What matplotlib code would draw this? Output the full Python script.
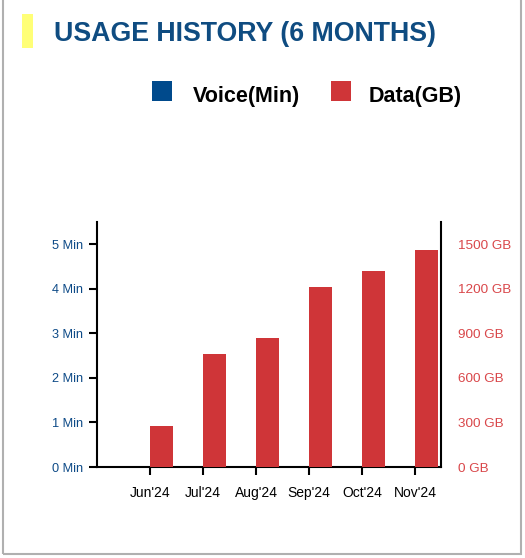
import matplotlib
matplotlib.use("Agg")
import matplotlib.pyplot as plt
from matplotlib.patches import Rectangle
import numpy as np

plt.rcParams["font.family"] = ["Liberation Sans", "DejaVu Sans"]

months = ["Jun'24", "Jul'24", "Aug'24", "Sep'24", "Oct'24", "Nov'24"]
voice_min = [0, 0, 0, 0, 0, 0]
data_gb = [276, 760, 868, 1211, 1318, 1460]
voice_ticks = [0, 1, 2, 3, 4, 5]
data_ticks = [0, 300, 600, 900, 1200, 1500]

blue = "#0d4a87"
red = "#cf3538"
label_red = "#d9474a"

fig = plt.figure(figsize=(5.25, 5.58), dpi=100)

# outer card border
fig.patches.append(Rectangle((3 / 525, 4 / 558), 518 / 525, 560 / 558, transform=fig.transFigure,
                             fill=False, edgecolor="#b0b0b0", linewidth=1.5))
# yellow marker + title
fig.patches.append(Rectangle((22 / 525, 1 - 48 / 558), 11 / 525, 34 / 558, transform=fig.transFigure,
                             facecolor="#ffff77", edgecolor="none"))
fig.text(54 / 525, 1 - 34 / 558, "USAGE HISTORY (6 MONTHS)", color="#0f4c81", fontsize=19.3,
         fontweight="bold", va="center", ha="left")

# legend
fig.patches.append(Rectangle((152 / 525, 1 - 101 / 558), 20 / 525, 20 / 558, transform=fig.transFigure,
                             facecolor="#004a8c", edgecolor="none"))
fig.text(193 / 525, 1 - 96 / 558, "Voice(Min)", fontsize=15.5, fontweight="bold", va="center")
fig.patches.append(Rectangle((331 / 525, 1 - 101 / 558), 20 / 525, 20 / 558, transform=fig.transFigure,
                             facecolor=red, edgecolor="none"))
fig.text(369 / 525, 1 - 96 / 558, "Data(GB)", fontsize=15.5, fontweight="bold", va="center")

ax = fig.add_axes([97 / 525, 1 - 467 / 558, 344 / 525, 245 / 558])
ax2 = ax.twinx()

x = np.arange(len(months))
w = 0.43
ax.bar(x - w / 2, voice_min, w, color="#004a8c")
ax2.bar(x + w / 2, data_gb, w, color=red)

ax.set_xlim(-1, 5.49)
ax.set_ylim(0, 5.5)
ax2.set_ylim(0, 1650)

ax.set_xticks(x)
ax.set_xticklabels(months, fontsize=10)
ax.tick_params(axis="x", length=6, width=1.5, pad=8)
ax.set_yticks(voice_ticks)
ax.set_yticklabels([f"{v} Min" for v in voice_ticks], color=blue, fontsize=9.2)
ax.tick_params(axis="y", length=6, width=1.5, pad=4)
ax2.set_yticks(data_ticks)
ax2.set_yticklabels([f"{v} GB" for v in data_ticks], color=label_red, fontsize=9.7)
ax2.tick_params(axis="y", length=0, pad=12)

for a in (ax, ax2):
    a.spines["top"].set_visible(False)
    for s in ("left", "right", "bottom"):
        a.spines[s].set_linewidth(1.5)
ax.spines["right"].set_visible(False)
ax2.spines["left"].set_visible(False)
ax2.spines["bottom"].set_visible(False)

fig.savefig("out.png", dpi=100)
